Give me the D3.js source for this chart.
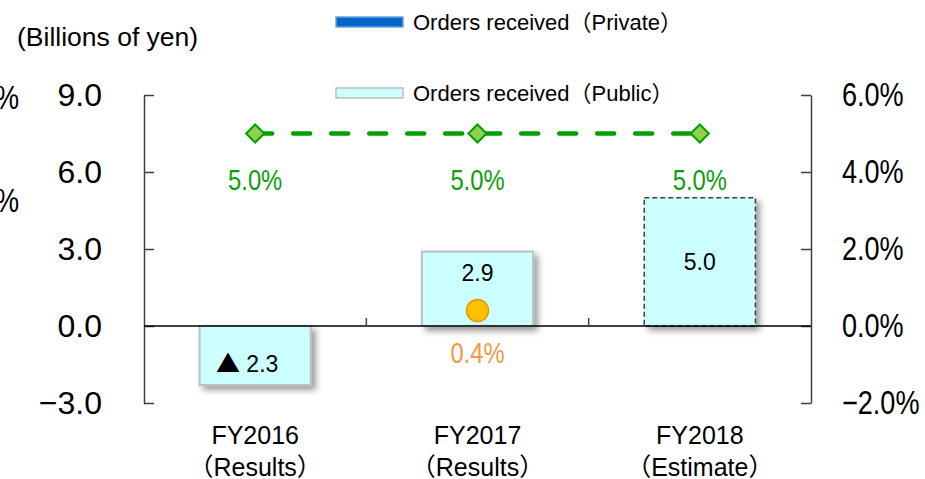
<!DOCTYPE html>
<html>
<head>
<meta charset="utf-8">
<script src="https://cdn.jsdelivr.net/npm/d3@7"></script>
<style>
  body { margin: 0; background: #fff; }
  svg { display: block; font-family: "Liberation Sans", Arial, "Noto Sans CJK JP", sans-serif; }
</style>
</head>
<body>
<script>
// categories and values
var categories = ["FY2016", "FY2017", "FY2018"];
var categoryNotes = ["（Results）", "（Results）", "（Estimate）"];
var privateOrders = [0, 0, 0];          // billions of yen, nothing visible
var publicOrders = [-2.3, 2.9, 5.0];     // billions of yen
var estimated = [false, false, true];    // dashed outline for the estimate
var greenRate = [5.0, 5.0, 5.0];         // %, right axis
var orangeRate = [null, 0.4, null];      // %, right axis
var leftTicks = [-3, 0, 3, 6, 9];
var rightTicks = [-2, 0, 2, 4, 6];
var clippedLabels = ["8.0%", "6.0%"];    // third axis cut off at the left edge
var clippedValues = [8, 6];

var W = 925, H = 479;
var svg = d3.select("body").append("svg").attr("width", W).attr("height", H);

// percent labels use a narrow face in the original
function condense(sel, k) {
  sel.each(function() {
    var w = this.getComputedTextLength();
    d3.select(this).attr("textLength", w * k).attr("lengthAdjust", "spacingAndGlyphs");
  });
}

var defs = svg.append("defs");
var f = defs.append("filter").attr("id", "shadow")
  .attr("x", "-20%").attr("y", "-20%").attr("width", "150%").attr("height", "150%");
f.append("feDropShadow").attr("dx", 4).attr("dy", 4).attr("stdDeviation", 3)
  .attr("flood-color", "#000").attr("flood-opacity", 0.4);

var x = d3.scaleBand().domain(categories).range([144, 811]).padding(0);
var yL = d3.scaleLinear().domain([-3, 9]).range([403, 95]);
var yR = d3.scaleLinear().domain([-2, 6]).range([403, 95]);
var yClip = d3.scaleLinear().domain([6, 8]).range([200, 97]);
var barW = x.bandwidth() * 0.5;
var cx = function(d) { return x(d) + x.bandwidth() / 2; };

// title
svg.append("text").attr("x", 17).attr("y", 37).attr("dy", "0.35em")
  .style("font-size", "26.5px").text("(Billions of yen)");

// clipped labels of a hidden axis
svg.selectAll(".clip").data(clippedLabels).enter().append("text")
  .attr("x", 19).attr("y", function(d, i) { return yClip(clippedValues[i]); })
  .attr("dy", "0.35em").attr("text-anchor", "end")
  .style("font-size", "33px").text(function(d) { return d; })
  .call(condense, 0.82);

// left axis
var gL = svg.append("g").attr("transform", "translate(144,0)")
  .call(d3.axisLeft(yL).tickValues(leftTicks).tickFormat(d3.format(".1f"))
    .tickSizeInner(-10).tickSizeOuter(0).tickPadding(42));
gL.select(".domain").attr("stroke", "#404040").attr("stroke-width", 1.5);
gL.selectAll(".tick line").attr("stroke", "#404040").attr("stroke-width", 1.5);
gL.selectAll(".tick text").attr("fill", "#000").style("font-size", "32px")
  .style("font-family", "Liberation Sans, Arial, sans-serif");

// right axis
var gR = svg.append("g").attr("transform", "translate(811,0)")
  .call(d3.axisRight(yR).tickValues(rightTicks)
    .tickFormat(function(d) { return d3.format(".1f")(d) + "%"; })
    .tickSizeInner(-10).tickSizeOuter(0).tickPadding(31));
gR.select(".domain").attr("stroke", "#404040").attr("stroke-width", 1.5);
gR.selectAll(".tick line").attr("stroke", "#404040").attr("stroke-width", 1.5);
gR.selectAll(".tick text").attr("fill", "#000")
  .style("font-family", "Liberation Sans, Arial, sans-serif").style("font-size", "33px")
  .call(condense, 0.82);

// bars (private stacked under public; zero private draws nothing)
var bars = svg.append("g").selectAll("g").data(categories).enter().append("g");
bars.each(function(c, i) {
  var g = d3.select(this);
  var base = privateOrders[i];
  if (privateOrders[i] !== 0) {
    g.append("rect").attr("x", cx(c) - barW / 2).attr("width", barW)
      .attr("y", yL(Math.max(0, base))).attr("height", Math.abs(yL(base) - yL(0)))
      .attr("fill", "#0066CC").attr("stroke", "#6FA0D8").attr("filter", "url(#shadow)");
  }
  var v = publicOrders[i];
  var top = yL(Math.max(base, base + v)), bot = yL(Math.min(base, base + v));
  g.append("rect").attr("x", cx(c) - barW / 2).attr("width", barW)
    .attr("y", top).attr("height", bot - top)
    .attr("fill", "#CCFFFF")
    .attr("stroke", estimated[i] ? "#404040" : "#BFBFBF")
    .attr("stroke-width", estimated[i] ? 1.5 : 2)
    .attr("stroke-dasharray", estimated[i] ? "5 3" : null)
    .attr("filter", "url(#shadow)");
});

// zero line and category ticks
svg.append("line").attr("x1", 144).attr("x2", 811).attr("y1", yL(0)).attr("y2", yL(0))
  .attr("stroke", "#000").attr("stroke-width", 1.5);
svg.selectAll(".ctick").data(categories.slice(1)).enter().append("line")
  .attr("x1", function(d) { return x(d); }).attr("x2", function(d) { return x(d); })
  .attr("y1", yL(0) - 8).attr("y2", yL(0)).attr("stroke", "#404040").attr("stroke-width", 1.5);

// bar value labels (negative values shown with a ▲ in front)
var blab = svg.selectAll(".blab").data(categories).enter().append("text")
  .attr("x", function(d, i) { return cx(d) + (publicOrders[i] < 0 ? -8 : 0); })
  .attr("y", function(d, i) {
    var v = publicOrders[i];
    if (orangeRate[i] != null) return yL(v) + 21;
    return yL(v / 2) + (v < 0 ? 8 : 0);
  })
  .attr("dy", "0.35em").attr("text-anchor", "middle").style("font-size", "23px");
blab.filter(function(d, i) { return publicOrders[i] < 0; }).append("tspan")
  .style("font-family", "Noto Sans CJK JP, sans-serif").style("font-size", "24px").text("▲");
blab.append("tspan")
  .text(function(d, i) {
    var v = publicOrders[i];
    return v < 0 ? " " + d3.format(".1f")(-v) : d3.format(".1f")(v);
  });

// green dashed line with diamonds
var line = d3.line().x(function(d, i) { return cx(categories[i]); }).y(function(d) { return yR(d); });
svg.append("path").datum(greenRate).attr("d", line)
  .attr("fill", "none").attr("stroke", "#00A000").attr("stroke-width", 4.5)
  .attr("stroke-linecap", "round").attr("stroke-dasharray", "17 21");
svg.selectAll(".dia").data(greenRate).enter().append("path")
  .attr("d", d3.symbol(d3.symbolDiamond2, 210))
  .attr("transform", function(d, i) { return "translate(" + cx(categories[i]) + "," + yR(d) + ")"; })
  .attr("fill", "#92D050").attr("stroke", "#00A000").attr("stroke-width", 2);
svg.selectAll(".glab").data(greenRate).enter().append("text")
  .attr("x", function(d, i) { return cx(categories[i]); })
  .attr("y", function(d) { return yR(d) + 46; })
  .attr("dy", "0.35em").attr("text-anchor", "middle")
  .attr("fill", "#0A9F0A").style("font-size", "29px")
  .text(function(d) { return d3.format(".1f")(d) + "%"; })
  .call(condense, 0.82);

// orange points
var orange = orangeRate.map(function(v, i) { return {v: v, c: categories[i]}; })
  .filter(function(d) { return d.v != null; });
svg.selectAll(".opt").data(orange).enter().append("circle")
  .attr("cx", function(d) { return cx(d.c); }).attr("cy", function(d) { return yR(d.v); })
  .attr("r", 11).attr("fill", "#FFC000").attr("stroke", "#E69A00").attr("stroke-width", 1.5);
svg.selectAll(".olab").data(orange).enter().append("text")
  .attr("x", function(d) { return cx(d.c); }).attr("y", function(d) { return yR(d.v) + 42; })
  .attr("dy", "0.35em").attr("text-anchor", "middle")
  .attr("fill", "#F79646").style("font-size", "29px")
  .text(function(d) { return d3.format(".1f")(d.v) + "%"; })
  .call(condense, 0.82);

// category labels
var cl = svg.selectAll(".clab").data(categories).enter().append("text")
  .attr("text-anchor", "middle").style("font-size", "25px");
cl.append("tspan").attr("x", cx).attr("y", 435).attr("dy", "0.35em").text(function(d) { return d; });
cl.append("tspan").attr("x", cx).attr("y", 467).attr("dy", "0.35em")
  .text(function(d, i) { return categoryNotes[i]; });

// legend
var legend = [
  {label: "Orders received（Private）", fill: "#0066CC", stroke: "#6FA0D8", y: 22},
  {label: "Orders received（Public）", fill: "#CCFFFF", stroke: "#BFBFBF", y: 93}
];
var lg = svg.selectAll(".leg").data(legend).enter().append("g");
lg.append("rect").attr("x", 336).attr("y", function(d) { return d.y - 5; })
  .attr("width", 67).attr("height", 10)
  .attr("fill", function(d) { return d.fill; }).attr("stroke", function(d) { return d.stroke; })
  .attr("stroke-width", 1.5);
lg.append("text").attr("x", 413).attr("y", function(d) { return d.y; }).attr("dy", "0.35em")
  .style("font-size", "22px").text(function(d) { return d.label; });
</script>
</body>
</html>
